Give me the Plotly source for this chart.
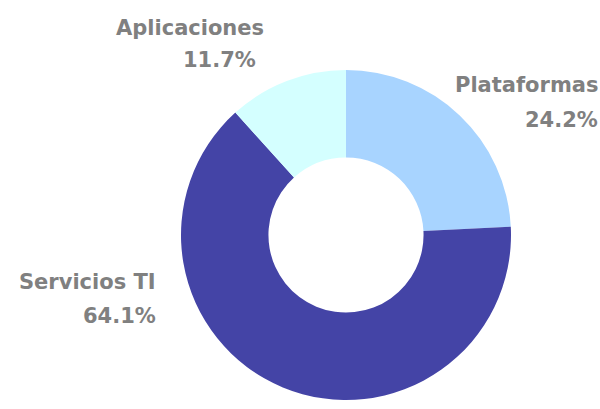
import plotly.graph_objects as go

labels = ['Plataformas', 'Servicios TI', 'Aplicaciones']
values = [24.2, 64.1, 11.7]
colors = ['#a8d4ff', '#4444a6', '#d4ffff']

W, H = 600, 409
cx, cy, r = 346, 235, 165

fig = go.Figure()
fig.add_trace(go.Pie(labels=labels, values=values, hole=0.47, sort=False,
                     direction='clockwise', rotation=0,
                     marker=dict(colors=colors, line=dict(width=0)),
                     textinfo='none', hoverinfo='label+percent',
                     domain=dict(x=[(cx - r) / W, (cx + r) / W],
                                 y=[(H - cy - r) / H, (H - cy + r) / H])))

# label placement: (name x, name y, pct x, pct y) in pixels
label_pos = {'Plataformas': (600, 85, 600, 120),
             'Servicios TI': (158, 282, 158, 316),
             'Aplicaciones': (266, 28, 258, 60)}

font = dict(family='DejaVu Sans', size=21, color='#808080', weight='bold')
for name, v in zip(labels, values):
    x1, y1, x2, y2 = label_pos[name]
    for txt, x, y in [(name, x1, y1), (f'{v}%', x2, y2)]:
        fig.add_annotation(text=txt, x=x / W, y=1 - y / H, xref='paper', yref='paper',
                           xanchor='right', yanchor='middle', showarrow=False, font=font)

fig.update_layout(width=W, height=H, margin=dict(l=0, r=0, t=0, b=0),
                  showlegend=False, paper_bgcolor='white')
fig.write_html("out.html", config={'displayModeBar': False},
               post_script="document.body.style.margin='0';")
